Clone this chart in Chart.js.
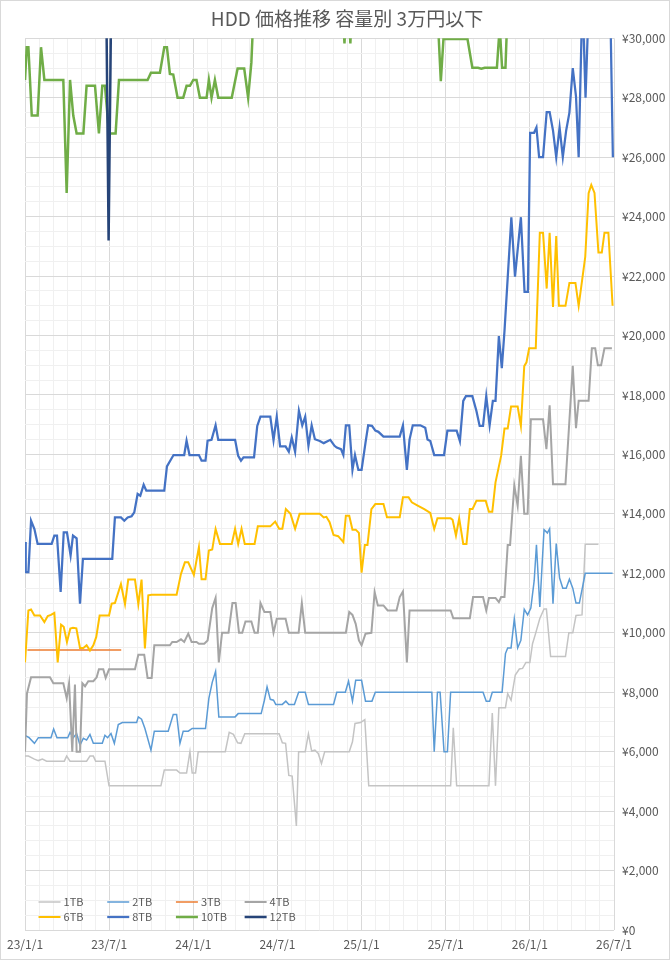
<!DOCTYPE html>
<html lang="ja">
<head>
<meta charset="utf-8">
<title>HDD 価格推移 容量別 3万円以下</title>
<script src="https://cdn.jsdelivr.net/npm/chart.js@4.4.1/dist/chart.umd.min.js"></script>
<style>
  html, body { margin: 0; padding: 0; background: #fff; }
</style>
</head>
<body>
<canvas id="hdd" width="670" height="960"></canvas>
<script>
// x = 2023年1月1日からの月数, y = 価格(円)
var seriesNames = ['1TB', '2TB', '3TB', '4TB', '6TB', '8TB', '10TB', '12TB'];
var xTickLabels = ['23/1/1', '23/7/1', '24/1/1', '24/7/1', '25/1/1', '25/7/1', '26/1/1', '26/7/1'];
var yTickLabels = ['¥0', '¥2,000', '¥4,000', '¥6,000', '¥8,000', '¥10,000', '¥12,000', '¥14,000',
                   '¥16,000', '¥18,000', '¥20,000', '¥22,000', '¥24,000', '¥26,000', '¥28,000', '¥30,000'];

var price1TB = [[0,5850],[0.24,5850],[0.67,5750],[0.95,5700],[1.24,5750],[1.54,5680],[2.8,5680],[2.97,5850],
  [3.21,5680],[4.39,5680],[4.63,5850],[4.87,5850],[5.04,5680],[5.7,5680],[5.99,4850],[9.69,4850],[9.93,5380],
  [10.81,5380],[11.05,5280],[11.52,5280],[11.76,6000],[11.92,5280],[12.16,5280],[12.35,6000],[14.28,6000],
  [14.56,6650],[14.86,6580],[15.16,6300],[15.4,6280],[15.67,6600],[18.12,6600],[18.35,6300],[18.58,6280],
  [18.81,5200],[19.05,5180],[19.35,3500],[19.51,6000],[19.98,6000],[20.21,6600],[20.44,6020],[20.67,6050],
  [20.91,5940],[21.14,5600],[21.37,6000],[23.12,6000],[23.35,6330],[23.53,6950],[23.93,6980],[24.23,7080],
  [24.51,4850],[30.35,4850],[30.54,6800],[30.78,4850],[33.08,4850],[33.32,7300],[33.55,4850],[33.79,7480],
  [34.26,7480],[34.42,7950],[34.66,7730],[34.96,8580],[35.25,8780],[35.48,8800],[35.72,9000],[36.0,9000],
  [36.19,9630],[36.38,9930],[36.71,10480],[37.01,10800],[37.18,10800],[37.48,9200],[38.54,9200],[38.78,10000],
  [39.06,10000],[39.29,10580],[39.72,10600],[39.95,12980],[40.89,12980]];

var price2TB = [[0,6550],[0.29,6470],[0.67,6280],[0.95,6470],[1.85,6470],[2.04,6760],[2.28,6470],[3.04,6470],
  [3.21,6650],[3.44,6470],[3.68,6610],[3.92,6220],[4.16,6450],[4.39,6390],[4.63,6580],[4.87,6280],[5.51,6280],
  [5.7,6550],[5.89,6470],[6.13,6610],[6.37,6280],[6.65,6910],[6.94,6980],[7.96,6980],[8.08,7170],[8.31,7090],
  [8.55,6780],[8.98,6050],[9.22,6690],[10.21,6690],[10.57,7250],[10.81,7250],[11.05,6280],[11.28,6690],
  [11.64,6690],[11.92,6780],[12.87,6780],[13.11,7790],[13.35,8330],[13.59,8700],[13.82,7170],[14.98,7170],
  [15.2,7280],[16.84,7280],[17.07,7730],[17.26,8180],[17.49,7760],[17.72,7730],[17.88,7590],[18.35,7590],
  [18.6,7700],[18.81,7590],[19.21,7590],[19.51,8000],[19.98,8000],[20.21,7590],[22.0,7590],[22.23,8000],
  [22.84,8000],[23.07,8370],[23.35,7700],[23.58,8400],[24.0,8400],[24.28,7700],[24.74,7700],[24.98,8000],
  [29.01,8000],[29.18,6000],[29.41,8000],[29.6,8000],[29.88,6000],[30.12,6000],[30.35,8000],[32.66,8000],
  [32.89,7700],[33.13,7700],[33.32,8000],[34.02,8000],[34.26,9300],[34.42,9490],[34.66,9490],[34.89,10470],
  [35.13,9490],[35.36,9750],[35.6,10790],[35.84,10600],[36.07,10830],[36.31,11760],[36.47,12960],[36.71,10870],
  [37.01,13470],[37.25,13360],[37.41,13500],[37.65,10980],[37.88,13000],[38.12,11840],[38.35,11500],
  [38.59,11500],[38.82,11800],[39.06,11500],[39.29,11000],[39.53,11000],[39.95,12000],[41.9,12000]];

var price3TB = [[0.17,9420],[1.5,9420],[3.0,9420],[4.5,9420],[6.86,9420]];

var price4TB = [[0,6000],[0.14,7960],[0.43,8500],[1.78,8500],[2.02,8300],[2.73,8300],[2.97,7800],[3.14,8300],
  [3.37,6000],[3.56,8260],[3.68,6000],[3.92,6000],[4.09,8300],[4.28,8200],[4.51,8370],[4.87,8370],[5.11,8500],
  [5.27,8770],[5.58,8770],[5.75,8480],[5.99,8770],[7.84,8770],[8.08,9260],[8.5,9260],[8.74,8480],[9.03,8480],
  [9.22,9580],[10.33,9580],[10.5,9690],[10.81,9690],[11.12,9780],[11.35,9690],[11.64,9970],[11.88,9690],
  [12.23,9690],[12.4,9630],[12.78,9630],[13.02,9740],[13.35,10830],[13.59,11170],[13.82,9000],[14.05,10000],
  [14.51,10000],[14.79,11000],[15.02,11000],[15.26,10000],[15.49,10000],[15.72,10380],[16.14,10380],
  [16.37,10000],[16.6,10000],[16.79,11000],[17.07,10700],[17.49,10700],[17.72,10000],[17.95,10470],
  [18.58,10470],[18.81,10000],[19.51,10000],[19.74,11000],[19.98,10000],[22.88,10000],[23.12,10700],
  [23.35,10600],[23.58,10300],[23.81,9740],[24.0,9580],[24.28,9970],[24.7,10000],[24.93,11370],[25.16,10920],
  [25.56,10920],[25.86,10750],[26.49,10750],[26.72,11200],[26.95,11390],[27.23,9000],[27.42,10750],
  [30.35,10750],[30.54,10490],[31.72,10490],[31.95,11200],[32.66,11200],[32.89,10750],[33.08,11170],
  [33.55,11170],[33.79,11030],[33.95,11200],[34.19,11200],[34.42,12950],[34.59,12950],[34.89,14960],
  [35.13,14270],[35.36,15950],[35.6,14000],[35.84,14000],[36.07,17180],[36.94,17180],[37.18,16180],
  [37.41,17650],[37.65,15000],[38.54,15000],[39.06,18980],[39.29,16880],[39.48,17810],[40.19,17810],
  [40.42,19570],[40.66,19570],[40.85,19000],[41.08,19000],[41.32,19570],[41.85,19570]];

var price6TB = [[0,9000],[0.24,10750],[0.43,10780],[0.67,10580],[1.07,10580],[1.38,10360],[1.62,10560],
  [1.85,10600],[2.09,10670],[2.33,9000],[2.57,10270],[2.76,10200],[2.99,9690],[3.23,10140],[3.42,10170],
  [3.66,10150],[3.92,9490],[4.16,9490],[4.39,9580],[4.63,9400],[4.87,9580],[5.08,9860],[5.32,10580],
  [5.99,10580],[6.18,10980],[6.41,11000],[6.84,11640],[7.13,10960],[7.36,11790],[7.84,11790],[8.08,10960],
  [8.31,11790],[8.55,9470],[8.79,11260],[9.03,11280],[10.81,11280],[11.12,11980],[11.4,12370],[11.64,12370],
  [12.04,11950],[12.4,12880],[12.59,11800],[12.87,11800],[13.11,12770],[13.35,12800],[13.59,13490],
  [13.9,12990],[14.74,12990],[14.98,13500],[15.2,12990],[15.44,13500],[15.67,12990],[16.37,12990],
  [16.6,13580],[17.49,13580],[17.84,13740],[18.12,13500],[18.35,13500],[18.6,14160],[18.93,14000],
  [19.26,13500],[19.58,14000],[21.02,14000],[21.3,13880],[21.49,13900],[21.72,13720],[22.0,13290],
  [22.33,13250],[22.7,13050],[22.88,13940],[23.12,13940],[23.35,13470],[23.58,13470],[23.81,13360],
  [24.0,12020],[24.23,12950],[24.42,12950],[24.7,14160],[24.98,14330],[25.56,14330],[25.81,13890],
  [26.72,13890],[26.95,14560],[27.35,14560],[27.58,14390],[28.0,14280],[28.47,14160],[28.9,14030],
  [29.18,13490],[29.41,13850],[30.35,13850],[30.49,13800],[30.73,13270],[30.96,13850],[31.25,12990],
  [31.48,12990],[31.72,14160],[31.91,14160],[32.19,14440],[32.85,14440],[33.08,14070],[33.32,14070],
  [33.55,15060],[33.95,15950],[34.19,16870],[34.42,16870],[34.66,17610],[35.13,17610],[35.36,16960],
  [35.6,18970],[35.76,19100],[35.95,19570],[36.42,19570],[36.71,23460],[36.94,23460],[37.2,21580],
  [37.41,23460],[37.65,20960],[37.88,23350],[38.07,21000],[38.54,21000],[38.82,21770],[39.25,21770],
  [39.48,21000],[39.72,21840],[39.95,22650],[40.19,24790],[40.38,25070],[40.61,24800],[40.89,22790],
  [41.13,22790],[41.32,23460],[41.6,23460],[41.9,21000]];

var price8TB = [[0,13050],[0.05,12040],[0.24,12040],[0.43,13770],[0.67,13490],[0.9,12990],[1.9,12990],
  [2.09,13270],[2.28,13270],[2.54,11370],[2.76,13380],[2.99,13380],[3.25,12600],[3.42,13270],[3.68,13180],
  [3.92,10980],[4.13,12490],[6.22,12490],[6.41,13880],[6.84,13880],[7.08,13770],[7.32,13880],[7.6,13920],
  [7.79,14050],[8.03,14670],[8.22,14610],[8.46,14980],[8.65,14780],[9.93,14780],[10.12,15600],[10.59,15980],
  [11.35,15980],[11.52,16460],[11.73,15980],[12.4,15980],[12.59,15790],[12.87,15790],[13.02,16460],
  [13.3,16490],[13.59,16980],[13.78,16490],[14.98,16490],[15.2,15950],[15.4,15790],[15.58,15900],
  [16.33,15900],[16.56,16960],[16.79,17270],[17.49,17270],[17.72,16480],[17.95,17270],[18.19,16270],
  [18.58,16270],[18.81,16090],[19.02,16570],[19.26,16090],[19.53,17470],[19.77,16980],[19.98,17270],
  [20.21,16290],[20.44,16980],[20.67,16510],[21.02,16450],[21.3,16380],[21.77,16490],[22.07,16290],
  [22.23,16230],[22.53,16180],[22.7,15980],[22.88,16980],[23.12,16980],[23.35,15480],[23.53,15980],
  [23.77,15480],[24.0,15480],[24.28,16400],[24.47,16980],[24.74,16960],[24.98,16800],[25.2,16760],
  [25.56,16600],[26.72,16600],[26.95,16980],[27.23,15480],[27.42,16500],[27.65,16980],[28.19,16980],
  [28.54,16900],[28.7,16500],[28.9,16450],[29.18,15980],[29.88,15980],[30.12,16800],[30.78,16800],
  [31.01,16450],[31.25,17800],[31.44,17960],[31.9,17960],[32.19,17460],[32.42,16960],[32.66,16960],
  [32.89,17960],[33.13,16980],[33.36,17800],[33.55,17800],[33.79,19980],[34.0,18900],[34.19,20150],
  [34.68,23980],[34.94,21980],[35.36,23980],[35.62,21470],[35.86,21470],[36.02,26820],[36.3,26820],
  [36.47,27000],[36.66,26000],[36.94,26000],[37.2,27520],[37.41,27520],[37.65,26900],[37.88,26000],
  [38.12,27000],[38.35,26000],[38.59,26900],[38.82,27500],[39.06,29000],[39.29,28050],[39.48,26000],
  [39.75,31500],[39.97,28000],[40.22,31500],[41.72,31500],[41.92,26000]];

var price10TB = [[0,28600],[0.12,29700],[0.24,29700],[0.48,27400],[0.9,27400],[1.14,29700],[1.38,28600],
  [2.73,28600],[2.97,24800],[3.21,28600],[3.44,27400],[3.68,26800],[4.16,26800],[4.39,28400],[4.99,28400],
  [5.27,26800],[5.51,28400],[5.7,28400],[5.99,26800],[6.46,26800],[6.7,28600],[8.74,28600],[8.98,28840],
  [9.62,28840],[9.93,29700],[10.12,29700],[10.33,28800],[10.57,28780],[10.88,28000],[11.28,28000],
  [11.52,28400],[11.76,28400],[12.0,28600],[12.23,28600],[12.47,28000],[12.95,28000],[13.11,28600],
  [13.3,28000],[13.54,28600],[13.78,28000],[14.74,28000],[15.16,28980],[15.63,28980],[15.91,28000],
  [16.14,29180],[16.35,31500],[22.6,31500],[22.78,29830],[22.95,31500],[23.05,31500],[23.2,29830],
  [23.35,31500],[29.35,31500],[29.65,28560],[29.84,29980],[31.55,29980],[31.9,29010],[32.3,29010],
  [32.54,28980],[32.78,29010],[33.65,29010],[33.79,29980],[33.9,29980],[34.02,29010],[34.26,29010],
  [34.45,31500]];

var price12TB = [[5.0,31800],[5.79,31500],[5.96,23200],[6.15,31500],[7.0,31800]];

var seriesData = [price1TB, price2TB, price3TB, price4TB, price6TB, price8TB, price10TB, price12TB];
var seriesColors = ['#c4c4c4', '#5b9bd5', '#ed7d31', '#a5a5a5', '#ffc000', '#4472c4', '#70ad47', '#264478'];
var seriesWidths = [1.5, 1.5, 1.5, 2, 2, 2.25, 2.5, 2.5];

var monthTicks = [];
for (var m = 0; m <= 42; m++) monthTicks.push({value: m});
var yenTicks = [];
for (var v = 0; v <= 30000; v += 500) yenTicks.push({value: v});

var datasets = seriesNames.map(function (name, i) {
    return {
        label: name,
        data: seriesData[i],
        borderColor: seriesColors[i],
        backgroundColor: seriesColors[i],
        borderWidth: seriesWidths[i],
        pointRadius: 0,
        tension: 0,
        fill: false,
        order: seriesNames.length - i
    };
});

// 白背景と外枠
var frame = {
    id: 'frame',
    beforeDraw: function (chart) {
        var c = chart.ctx;
        c.save();
        c.fillStyle = '#ffffff';
        c.fillRect(0, 0, chart.width, chart.height);
        c.restore();
    },
    afterDraw: function (chart) {
        var c = chart.ctx;
        c.save();
        c.strokeStyle = '#d9d9d9';
        c.lineWidth = 1;
        c.strokeRect(0.5, 0.5, chart.width - 1, chart.height - 1);
        c.restore();
    }
};

// 凡例はプロットエリアの左下に置く
var insideLegend = {
    id: 'insideLegend',
    afterDatasetsDraw: function (chart) {
        var c = chart.ctx, a = chart.chartArea;
        c.save();
        c.font = '11px "Noto Sans CJK JP", sans-serif';
        c.textBaseline = 'middle';
        c.textAlign = 'left';
        c.fillStyle = '#595959';
        chart.data.datasets.forEach(function (ds, i) {
            var col = i % 4, row = Math.floor(i / 4);
            var x = a.left + 13.5 + col * 68.7;
            var y = a.bottom - 28 + row * 15;
            c.strokeStyle = ds.borderColor;
            c.lineWidth = ds.borderWidth;
            c.beginPath();
            c.moveTo(x, y);
            c.lineTo(x + 22, y);
            c.stroke();
            c.fillText(ds.label, x + 25, y);
        });
        c.restore();
    }
};

Chart.defaults.font.family = '"Noto Sans CJK JP", "Noto Sans", sans-serif';
Chart.defaults.color = '#595959';

var ctx = document.getElementById('hdd').getContext('2d');
var myChart = new Chart(ctx, {
    type: 'line',
    data: { datasets: datasets },
    options: {
        responsive: false,
        animation: false,
        layout: { padding: { left: 24, right: 0, top: 0, bottom: 0 } },
        plugins: {
            legend: { display: false },
            tooltip: { enabled: false },
            title: {
                display: true,
                text: 'HDD 価格推移 容量別 3万円以下',
                color: '#595959',
                font: { size: 19, weight: 'normal', lineHeight: 1.2 },
                padding: { top: 7.5, bottom: 8 }
            }
        },
        scales: {
            x: {
                type: 'linear',
                min: 0,
                max: 42,
                afterBuildTicks: function (scale) { scale.ticks = monthTicks.slice(); },
                afterFit: function (scale) { scale.height = 30; },
                border: { display: false },
                grid: {
                    drawTicks: false,
                    color: function (c) { return c.tick && c.tick.value % 6 === 0 ? '#d9d9d9' : '#f0f0f0'; }
                },
                ticks: {
                    autoSkip: false,
                    maxRotation: 0,
                    padding: 7,
                    font: { size: 12 },
                    color: '#595959',
                    callback: function (value) {
                        return value % 6 === 0 ? xTickLabels[value / 6] : '';
                    }
                }
            },
            y: {
                position: 'right',
                min: 0,
                max: 30000,
                afterBuildTicks: function (scale) { scale.ticks = yenTicks.slice(); },
                afterFit: function (scale) { scale.width = 56; },
                border: { display: false },
                grid: {
                    drawTicks: false,
                    color: function (c) { return c.tick && c.tick.value % 2000 === 0 ? '#d9d9d9' : '#f0f0f0'; }
                },
                ticks: {
                    autoSkip: false,
                    padding: 8,
                    font: { size: 12 },
                    color: '#595959',
                    callback: function (value) {
                        return value % 2000 === 0 ? yTickLabels[value / 2000] : '';
                    }
                }
            }
        }
    },
    plugins: [frame, insideLegend]
});
</script>
</body>
</html>
